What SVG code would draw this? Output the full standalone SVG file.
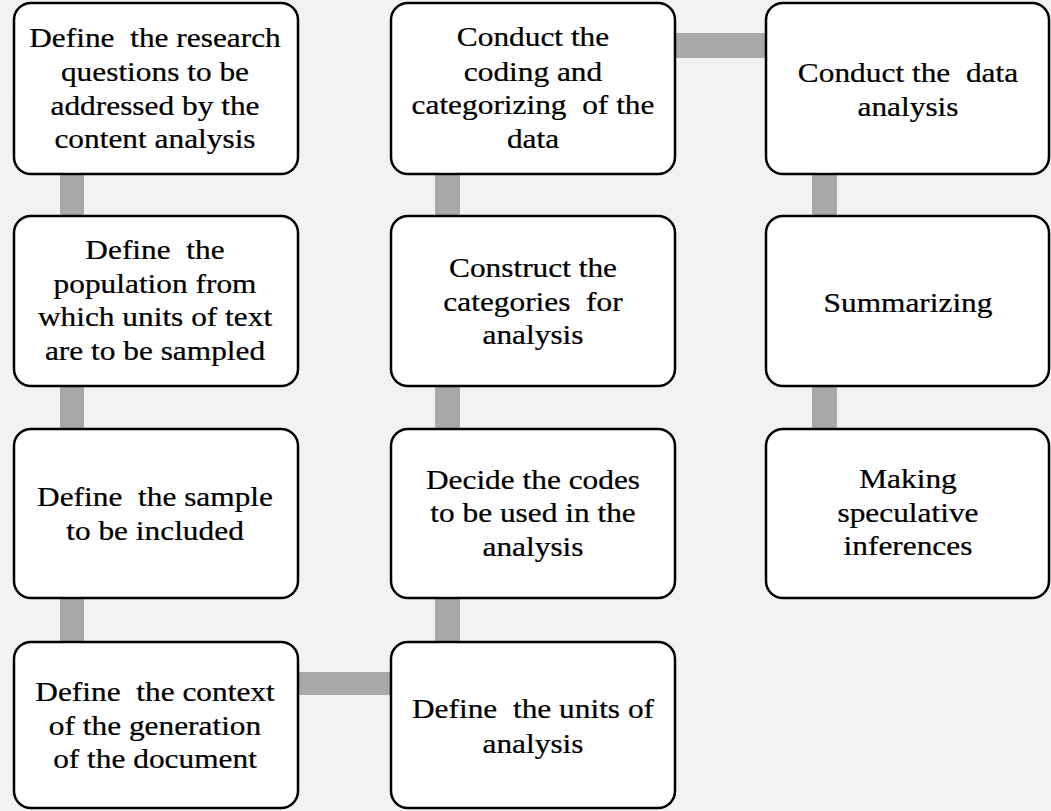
<svg xmlns="http://www.w3.org/2000/svg" width="1051" height="811" viewBox="0 0 1051 811" xml:space="preserve">
<style>
.box{fill:#ffffff;stroke:#000000;stroke-width:2.5}
.bar{fill:#a9a9a9}
.lbl{font-family:"Liberation Serif","Times New Roman",serif;font-size:28px;fill:#000000;stroke:#000000;stroke-width:0.25;text-anchor:middle;white-space:pre}
</style>
<rect x="0" y="0" width="1051" height="811" fill="#f2f2f2"/>
<g id="connectors">
<rect class="bar" x="60" y="174" width="24" height="42"/>
<rect class="bar" x="60" y="386" width="24" height="43"/>
<rect class="bar" x="60" y="598" width="24" height="44"/>
<rect class="bar" x="298" y="672" width="93" height="23"/>
<rect class="bar" x="435" y="598" width="25" height="44"/>
<rect class="bar" x="435" y="386" width="25" height="43"/>
<rect class="bar" x="435" y="174" width="25" height="42"/>
<rect class="bar" x="675" y="33" width="91" height="25"/>
<rect class="bar" x="812" y="174" width="25" height="42"/>
<rect class="bar" x="812" y="386" width="25" height="43"/>
</g>
<g id="n1">
<rect class="box" x="14" y="3" width="284" height="171" rx="17"/>
<text class="lbl" transform="translate(155 0) scale(1.12 1)"><tspan x="0" y="47">Define  the research</tspan><tspan x="0" y="81">questions to be</tspan><tspan x="0" y="115">addressed by the</tspan><tspan x="0" y="148">content analysis</tspan></text>
</g>
<g id="n2">
<rect class="box" x="14" y="216" width="284" height="170" rx="17"/>
<text class="lbl" transform="translate(155 0) scale(1.12 1)"><tspan x="0" y="259">Define  the</tspan><tspan x="0" y="293">population from</tspan><tspan x="0" y="326">which units of text</tspan><tspan x="0" y="360">are to be sampled</tspan></text>
</g>
<g id="n3">
<rect class="box" x="14" y="429" width="284" height="169" rx="17"/>
<text class="lbl" transform="translate(155 0) scale(1.12 1)"><tspan x="0" y="506">Define  the sample</tspan><tspan x="0" y="540">to be included</tspan></text>
</g>
<g id="n4">
<rect class="box" x="14" y="642" width="284" height="166" rx="17"/>
<text class="lbl" transform="translate(155 0) scale(1.12 1)"><tspan x="0" y="701">Define  the context</tspan><tspan x="0" y="735">of the generation</tspan><tspan x="0" y="768">of the document</tspan></text>
</g>
<g id="n5">
<rect class="box" x="391" y="642" width="284" height="166" rx="17"/>
<text class="lbl" transform="translate(533 0) scale(1.12 1)"><tspan x="0" y="718">Define  the units of</tspan><tspan x="0" y="753">analysis</tspan></text>
</g>
<g id="n6">
<rect class="box" x="391" y="429" width="284" height="169" rx="17"/>
<text class="lbl" transform="translate(533 0) scale(1.12 1)"><tspan x="0" y="489">Decide the codes</tspan><tspan x="0" y="522">to be used in the</tspan><tspan x="0" y="556">analysis</tspan></text>
</g>
<g id="n7">
<rect class="box" x="391" y="216" width="284" height="170" rx="17"/>
<text class="lbl" transform="translate(533 0) scale(1.12 1)"><tspan x="0" y="277">Construct the</tspan><tspan x="0" y="311">categories  for</tspan><tspan x="0" y="344">analysis</tspan></text>
</g>
<g id="n8">
<rect class="box" x="391" y="3" width="284" height="171" rx="17"/>
<text class="lbl" transform="translate(533 0) scale(1.12 1)"><tspan x="0" y="46">Conduct the</tspan><tspan x="0" y="81">coding and</tspan><tspan x="0" y="114">categorizing  of the</tspan><tspan x="0" y="148">data</tspan></text>
</g>
<g id="n9">
<rect class="box" x="766" y="3" width="283" height="171" rx="17"/>
<text class="lbl" transform="translate(908 0) scale(1.12 1)"><tspan x="0" y="82">Conduct the  data</tspan><tspan x="0" y="116">analysis</tspan></text>
</g>
<g id="n10">
<rect class="box" x="766" y="216" width="283" height="170" rx="17"/>
<text class="lbl" transform="translate(908 0) scale(1.12 1)"><tspan x="0" y="312">Summarizing</tspan></text>
</g>
<g id="n11">
<rect class="box" x="766" y="429" width="283" height="169" rx="17"/>
<text class="lbl" transform="translate(908 0) scale(1.12 1)"><tspan x="0" y="488">Making</tspan><tspan x="0" y="522">speculative</tspan><tspan x="0" y="555">inferences</tspan></text>
</g>
</svg>
